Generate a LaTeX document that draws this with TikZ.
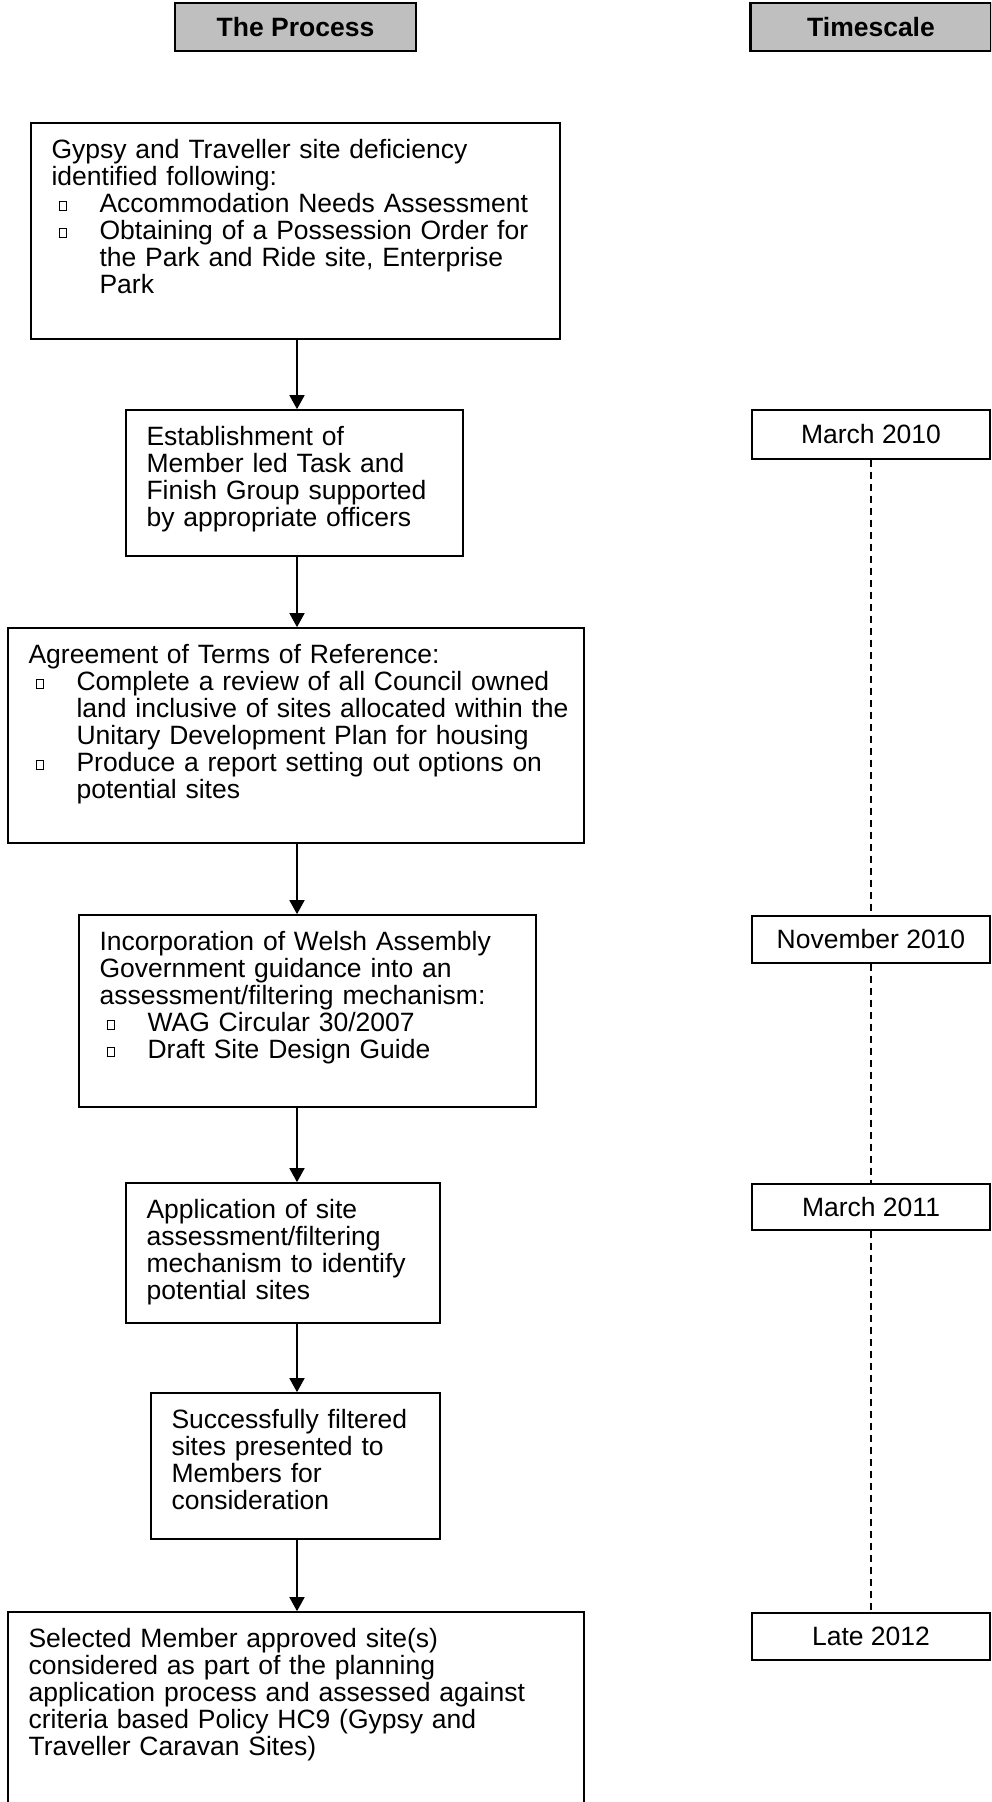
\documentclass[tikz,border=0pt]{standalone}
\usepackage{fontspec}
\setmainfont{Liberation Sans}
\usetikzlibrary{arrows.meta,positioning,calc,fit}

\newcommand{\bodyfont}{\fontsize{13.25pt}{13.5pt}\selectfont\setlength{\parskip}{0pt}\setlength{\parindent}{0pt}}
\newcommand{\sqbul}{\raisebox{1pt}{\setlength{\fboxsep}{0pt}\setlength{\fboxrule}{0.5pt}\fbox{\rule{0pt}{4pt}\hspace{3.4pt}}}}
\newcommand{\lnbreak}{\hfil\break}
\newcommand{\bitem}[1]{\par\hangindent=24pt\hangafter=1\noindent\makebox[24pt][l]{\hspace{3.5pt}\sqbul}#1\par}

\begin{document}
\begin{tikzpicture}[x=0.5pt, y=-0.5pt,
    head/.style={draw, line width=1.1pt, fill=black!25, inner sep=0pt, minimum width=120.5pt, minimum height=24pt, font=\bodyfont\bfseries},
    frame/.style={draw, line width=0.85pt, inner sep=0pt},
    when/.style={draw, line width=0.85pt, inner sep=0pt, minimum width=119pt, font=\bodyfont},
    txt/.style={anchor=base west, inner sep=0pt, text width=290pt, font=\bodyfont},
    flow/.style={line width=0.85pt, -{Triangle[length=7pt, width=7.5pt]}},
    timeline/.style={line width=0.6pt, dash pattern=on 3.5pt off 2.5pt}]
    \useasboundingbox (0,0) rectangle (991,1802);
    \clip (0,0) rectangle (991,1802);

    % Column headers
    \node[head] (hproc) at (295.5,27) {The Process};
    \node[head] (htime) at (871,27) {Timescale};

    % Process boxes
    \node[frame, fit={(31,123) (560,339)}] (b1) {};
    \node[txt] (b1t) at ([shift={(10.5pt,-18pt)}]b1.north west) {Gypsy and Traveller site deficiency\lnbreak identified following:
        \bitem{Accommodation Needs Assessment}
        \bitem{Obtaining of a Possession Order for\lnbreak the Park and Ride site, Enterprise\lnbreak Park}};

    \node[frame, fit={(126,410) (463,556)}] (b2) {};
    \node[txt] (b2t) at ([shift={(10.5pt,-18pt)}]b2.north west) {Establishment of\\Member led Task and\\Finish Group supported\\by appropriate officers};

    \node[frame, fit={(8,628) (584,843)}] (b3) {};
    \node[txt] (b3t) at ([shift={(10.5pt,-18pt)}]b3.north west) {Agreement of Terms of Reference:
        \bitem{Complete a review of all Council owned\lnbreak land inclusive of sites allocated within the\lnbreak Unitary Development Plan for housing}
        \bitem{Produce a report setting out options on\lnbreak potential sites}};

    \node[frame, fit={(79,915) (536,1107)}] (b4) {};
    \node[txt] (b4t) at ([shift={(10.5pt,-18pt)}]b4.north west) {Incorporation of Welsh Assembly\\Government guidance into an\\assessment/filtering mechanism:
        \bitem{WAG Circular 30/2007}
        \bitem{Draft Site Design Guide}};

    \node[frame, fit={(126,1183) (440,1323)}] (b5) {};
    \node[txt] (b5t) at ([shift={(10.5pt,-18pt)}]b5.north west) {Application of site\\assessment/filtering\\mechanism to identify\\potential sites};

    \node[frame, fit={(151,1393) (440,1539)}] (b6) {};
    \node[txt] (b6t) at ([shift={(10.5pt,-18pt)}]b6.north west) {Successfully filtered\\sites presented to\\Members for\\consideration};

    \node[frame, fit={(8,1612) (584,1815)}] (b7) {};
    \node[txt] (b7t) at ([shift={(10.5pt,-18pt)}]b7.north west) {Selected Member approved site(s)\\considered as part of the planning\\application process and assessed against\\criteria based Policy HC9 (Gypsy and\\Traveller Caravan Sites)};

    % Flow arrows
    \coordinate (spine) at (297,0);
    \foreach \a/\b in {b1/b2,b2/b3,b3/b4,b4/b5,b5/b6,b6/b7} {
        \draw[flow] (\a.south -| spine) -- (\b.north -| spine);
    }

    % Timescale boxes
    \foreach \n/\top/\bot/\lab in {t1/410/459/March 2010, t2/916/963/November 2010, t3/1184/1230/March 2011, t4/1613/1660/Late 2012} {
        \node[when, minimum height=(\bot-\top)*0.5pt] (\n) at (871,{(\top+\bot)/2}) {\lab};
    }
    \foreach \a/\b in {t1/t2,t2/t3,t3/t4} {
        \draw[timeline] (\a.south) -- (\b.north);
    }
\end{tikzpicture}
\end{document}
